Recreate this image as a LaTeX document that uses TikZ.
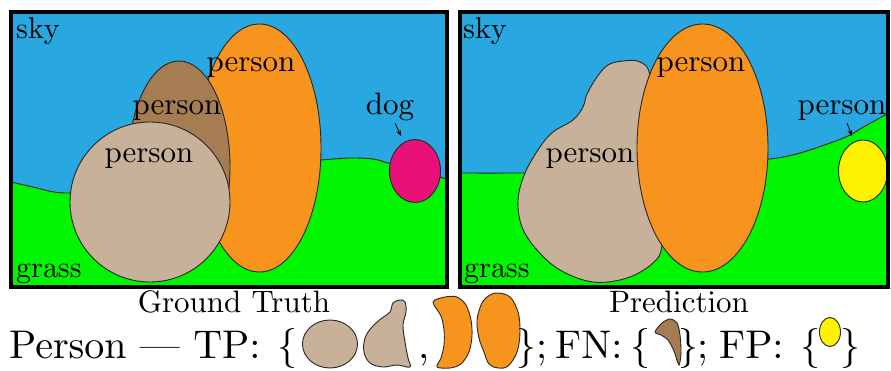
\documentclass[tikz,border=0pt]{standalone}
\usetikzlibrary{arrows.meta}
\definecolor{skyc}{RGB}{41,167,225}
\definecolor{grassc}{RGB}{0,245,0}
\definecolor{orangec}{RGB}{247,148,30}
\definecolor{brownc}{RGB}{166,124,82}
\definecolor{tanc}{RGB}{199,178,153}
\definecolor{dogc}{RGB}{234,16,122}
\definecolor{yellowc}{RGB}{255,242,0}
\font\rmA=cmr10 at 31pt
\font\rmB=cmr10 at 30pt
\font\rmC=cmr10 at 40pt
\font\syC=cmsy10 at 40pt
\newcommand{\lbr}{{\syC\char"66}}
\newcommand{\rbr}{{\syC\char"67}}
\tikzset{
  objshape/.style={draw=black!85, line width=0.9pt},
  groundline/.style={draw=black!85, line width=0.9pt},
  panelframe/.style={draw=black, line width=4pt},
  segtext/.style={inner sep=0pt, anchor=base, font=\rmA},
  regtext/.style={inner sep=0pt, anchor=base west, font=\rmB},
  captext/.style={inner sep=0pt, anchor=base, font=\rmA},
  rowtext/.style={inner sep=0pt, anchor=base west, font=\rmC},
  pointer/.style={line width=0.8pt, -{Stealth[length=6pt,width=4.5pt]}},
}
\begin{document}
\begin{tikzpicture}[x=1pt,y=-1pt]
\useasboundingbox (0,0) rectangle (891,371);
\fill[white] (0,0) rectangle (891,371);

% ---------------- left panel: ground truth
\begin{scope}
\clip (10.5,12.5) rectangle (447,287);
\fill[skyc] (0,0) rectangle (460,300);
\fill[grassc] plot[smooth] coordinates {(3,180) (33,187) (68,193) (150,185) (250,165) (320,160) (350,158) (373,159) (388,163) (415,170) (440,177) (455,183)} -- (455,300) -- (3,300) -- cycle;
\draw[groundline] plot[smooth] coordinates {(3,180) (33,187) (68,193) (150,185) (250,165) (320,160) (350,158) (373,159) (388,163) (415,170) (440,177) (455,183)};
\filldraw[objshape, fill=orangec] (259.5,148) ellipse [x radius=61.5, y radius=124];
\filldraw[objshape, fill=brownc] (179,167) ellipse [x radius=51, y radius=106];
\filldraw[objshape, fill=tanc] (150,202) circle [radius=80];
\filldraw[objshape, fill=dogc] (415,171) ellipse [x radius=25.5, y radius=31.5];
\end{scope}
\draw[panelframe] (10.5,12.5) rectangle (447,287);
\node[regtext] (lsky) at (16,39) {sky};
\node[regtext] (lgrass) at (16,277) {grass};
\node[segtext] (lporange) at (251,72) {person};
\node[segtext] (lpbrown) at (177,115) {person};
\node[segtext] (lptan) at (149,163) {person};
\node[segtext] (ldog) at (390,115) {dog};
\coordinate (ldogtip) at (401,136);
\draw[pointer] (ldog.south) ++(5,2) coordinate (ldogfrom) (ldogfrom) -- (ldogtip);

% ---------------- right panel: prediction
\begin{scope}
\clip (460,12.5) rectangle (888,287);
\fill[skyc] (450,0) rectangle (900,300);
\fill[grassc] plot[smooth] coordinates {(452,173) (517,173) (600,172) (700,165) (770,159) (800,153) (833,142) (850,135) (867,125) (898,108)} -- (898,300) -- (452,300) -- cycle;
\draw[groundline] plot[smooth] coordinates {(452,173) (517,173) (600,172) (700,165) (770,159) (800,153) (833,142) (850,135) (867,125) (898,108)};
\filldraw[objshape, fill=tanc] plot[smooth cycle, tension=0.6] coordinates {(597,77) (608,65) (623,61) (640,62) (650,76) (652,130) (660,200) (662,245) (653,263) (627,278) (593,282) (560,270) (537,250) (522,227) (518,200) (525,173) (540,147) (553,132) (573,120) (583,107) (587,94)};
\filldraw[objshape, fill=orangec] (702.5,148) ellipse [x radius=65.5, y radius=124];
\filldraw[objshape, fill=yellowc] (863,171) ellipse [x radius=24.5, y radius=31];
\end{scope}
\draw[panelframe] (460,12.5) rectangle (888,287);
\node[regtext] (rsky) at (463,39) {sky};
\node[regtext] (rgrass) at (464,277) {grass};
\node[segtext] (rporange) at (701,72) {person};
\node[segtext] (rptan) at (590,163) {person};
\node[segtext] (rpfp) at (842,115) {person};
\coordinate (rfptip) at (852,136);
\draw[pointer] (rpfp.south) ++(5,2) coordinate (rfpfrom) (rfpfrom) -- (rfptip);

% ---------------- captions
\node[captext] (capgt) at (234,312) {Ground Truth};
\node[captext] (cappr) at (679,312) {Prediction};

% ---------------- bottom row
\node[rowtext] (rperson) at (9,358) {Person --- TP:};
\node[rowtext] (rb1) at (277,358) {\lbr};
\filldraw[objshape, fill=tanc] (330,344) ellipse [x radius=27.5, y radius=24];
\filldraw[objshape, fill=tanc] plot[smooth cycle, tension=0.6] coordinates {(393,303) (400,300) (405,302) (406,312) (403,325) (405,342) (408,358) (410,367) (397,365) (383,367) (370,363) (364,352) (365,338) (372,327) (382,318) (390,312)};
\node[rowtext] (rcomma) at (418,358) {,};
\filldraw[objshape, fill=orangec] plot[smooth cycle, tension=0.5] coordinates {(433,302) (445,297) (457,297) (466,305) (471,320) (472,336) (469,352) (461,364) (450,368) (437,367) (441,358) (444,345) (444,330) (441,316)};
\filldraw[objshape, fill=orangec] plot[smooth cycle, tension=0.6] coordinates {(498,293) (510,297) (518,312) (520,332) (517,352) (508,366) (498,368) (489,364) (484,352) (479,338) (477,320) (482,303) (490,295)};
\node[rowtext] (rb2) at (516,358) {\rbr};
\node[rowtext] (rsemi1) at (536,358) {;};
\node[rowtext] (rfn) at (555,358) {FN:};
\node[rowtext] (rb3) at (630,358) {\lbr};
\filldraw[objshape, fill=brownc] plot[smooth cycle, tension=0.5] coordinates {(655,332) (662,323) (670,319) (677,323) (680,335) (681,352) (679,365) (674,351) (668,340) (661,335)};
\node[rowtext] (rb4) at (678,358) {\rbr};
\node[rowtext] (rsemi2) at (697,358) {;};
\node[rowtext] (rfp) at (719,358) {FP:};
\node[rowtext] (rb5) at (800,358) {\lbr};
\filldraw[objshape, fill=yellowc] (830,332) ellipse [x radius=10.5, y radius=14.5];
\node[rowtext] (rb6) at (840,358) {\rbr};
\end{tikzpicture}
\end{document}
